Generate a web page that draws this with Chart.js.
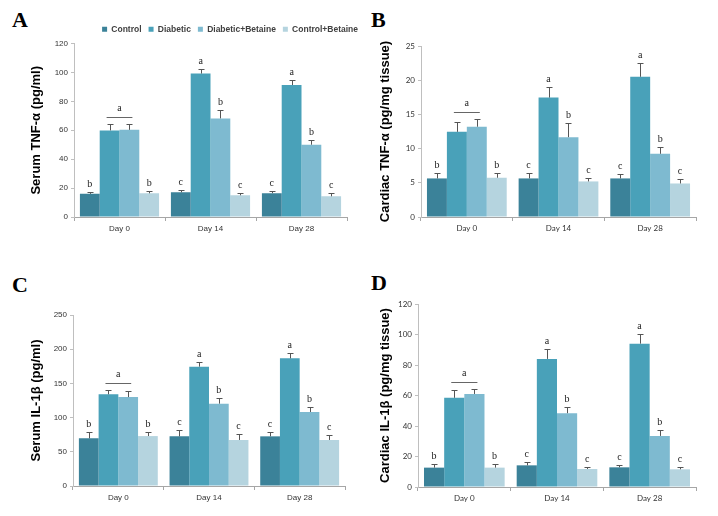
<!DOCTYPE html>
<html>
<head>
<meta charset="utf-8">
<script src="https://cdn.jsdelivr.net/npm/chart.js@4.4.0/dist/chart.umd.min.js"></script>
<style>
  body { margin: 0; background: #fff; width: 718px; height: 516px; position: relative; overflow: hidden; }
  canvas { position: absolute; }
  .tag { position: absolute; font: bold 22px "Liberation Serif", serif; line-height: 22px; color: #000; }
</style>
</head>
<body>
<div class="tag" style="left:12px;top:9px">A</div>
<div class="tag" style="left:371px;top:9px">B</div>
<div class="tag" style="left:12px;top:274px">C</div>
<div class="tag" style="left:371px;top:272px">D</div>

<canvas id="chartA" width="345" height="230" style="left:20px;top:15px"></canvas>
<canvas id="chartB" width="340" height="215" style="left:365px;top:30px"></canvas>
<canvas id="chartC" width="345" height="215" style="left:20px;top:300px"></canvas>
<canvas id="chartD" width="340" height="230" style="left:365px;top:285px"></canvas>

<script>
const days = ['Day 0', 'Day 14', 'Day 28'];
const groups = ['Control', 'Diabetic', 'Diabetic+Betaine', 'Control+Betaine'];
const groupColors = ['#3b8299', '#49a1b9', '#7ebad0', '#b5d4df'];

// significance letters, the same in every panel
// (day 0 Diabetic and Diabetic+Betaine share one letter drawn over a line)
const lettersControl = ['b', 'c', 'c'];
const lettersDiabetic = ['', 'a', 'a'];
const lettersDiabBet = ['', 'b', 'b'];
const lettersCtrlBet = ['b', 'c', 'c'];
const lettersDay0Shared = 'a';

// A - serum TNF-alpha (pg/ml)
const serumTnfControl = [16, 17.1, 16.5];
const serumTnfDiabetic = [59.9, 99.2, 91.3];
const serumTnfDiabBet = [60.3, 68.2, 50];
const serumTnfCtrlBet = [16.4, 15, 14.3];
const serumTnfControlErr = [1.1, 1.4, 1.6];
const serumTnfDiabeticErr = [4.6, 3.2, 3.5];
const serumTnfDiabBetErr = [4.2, 6, 3.2];
const serumTnfCtrlBetErr = [1.6, 1.9, 2.1];

// B - cardiac TNF-alpha (pg/mg tissue)
const cardTnfControl = [5.64, 5.64, 5.64];
const cardTnfDiabetic = [12.45, 17.46, 20.5];
const cardTnfDiabBet = [13.2, 11.67, 9.24];
const cardTnfCtrlBet = [5.74, 5.2, 4.9];
const cardTnfControlErr = [0.73, 0.76, 0.63];
const cardTnfDiabeticErr = [1.45, 1.54, 2.0];
const cardTnfDiabBetErr = [1.2, 2.0, 0.96];
const cardTnfCtrlBetErr = [0.73, 0.54, 0.65];

// C - serum IL-1beta (pg/ml)
const serumIlControl = [69.7, 72.6, 72.6];
const serumIlDiabetic = [134, 174.5, 186.6];
const serumIlDiabBet = [130, 120.4, 108.2];
const serumIlCtrlBet = [73, 67.3, 67.3];
const serumIlControlErr = [9.7, 9.8, 6.8];
const serumIlDiabeticErr = [6.8, 7.3, 8.4];
const serumIlDiabBetErr = [9.4, 8.3, 7.3];
const serumIlCtrlBetErr = [5.5, 8.7, 7.7];

// D - cardiac IL-1beta (pg/mg tissue)
const cardIlControl = [12.7, 14.2, 12.9];
const cardIlDiabetic = [58.5, 84, 94];
const cardIlDiabBet = [61, 48.4, 33.5];
const cardIlCtrlBet = [12.7, 11.8, 11.6];
const cardIlControlErr = [2.2, 2.4, 1.7];
const cardIlDiabeticErr = [5, 6.5, 6.2];
const cardIlDiabBetErr = [3.4, 4.1, 3.6];
const cardIlCtrlBetErr = [2.4, 1.6, 1.4];

const letterSets = [lettersControl, lettersDiabetic, lettersDiabBet, lettersCtrlBet];

// error bars + letters + the day 0 line
const marksPlugin = {
  id: 'marks',
  afterDatasetsDraw(chart) {
    const ctx = chart.ctx;
    const y = chart.scales.y;
    ctx.save();
    ctx.lineWidth = 1;
    ctx.fillStyle = '#222';
    ctx.font = '10px "Liberation Serif"';
    ctx.textAlign = 'center';
    ctx.textBaseline = 'alphabetic';
    chart.data.datasets.forEach((ds, i) => {
      chart.getDatasetMeta(i).data.forEach((bar, j) => {
        const top = Math.round(y.getPixelForValue(ds.data[j] + ds.errors[j])) + 0.5;
        const x = Math.round(bar.x) + 0.5;
        ctx.strokeStyle = '#555';
        ctx.beginPath();
        ctx.moveTo(x, bar.y);
        ctx.lineTo(x, top);
        ctx.moveTo(x - 3, top);
        ctx.lineTo(x + 3, top);
        ctx.stroke();
        if (ds.letters[j]) ctx.fillText(ds.letters[j], bar.x, top - 6);
      });
    });
    const d1 = chart.data.datasets[1], d2 = chart.data.datasets[2];
    const b1 = chart.getDatasetMeta(1).data[0], b2 = chart.getDatasetMeta(2).data[0];
    const capTop = Math.min(y.getPixelForValue(d1.data[0] + d1.errors[0]), y.getPixelForValue(d2.data[0] + d2.errors[0]));
    const ly = Math.round(capTop - 7) + 0.5;
    ctx.strokeStyle = '#666';
    ctx.beginPath();
    ctx.moveTo(b1.x - 3, ly);
    ctx.lineTo(b2.x + 3, ly);
    ctx.stroke();
    ctx.fillText(lettersDay0Shared, (b1.x + b2.x) / 2, ly - 7);
    ctx.restore();
  }
};

function drawPanel(id, values, errors, opt) {
  const datasets = groups.map((name, i) => ({
    label: name,
    data: values[i],
    errors: errors[i],
    letters: letterSets[i],
    backgroundColor: groupColors[i],
    borderWidth: 0,
    categoryPercentage: 0.87,
    barPercentage: 1.0
  }));
  const tickFont = { family: opt.tickFamily, size: 8 };
  return new Chart(document.getElementById(id), {
    type: 'bar',
    data: { labels: days, datasets: datasets },
    options: {
      responsive: false,
      animation: false,
      devicePixelRatio: 1,
      layout: { padding: { top: opt.padTop, left: 0, right: 0, bottom: 0 } },
      plugins: {
        tooltip: { enabled: false },
        legend: {
          display: !!opt.legend,
          position: 'top',
          align: 'end',
          labels: {
            boxWidth: 5,
            boxHeight: 5,
            padding: 7,
            color: '#404040',
            font: { family: 'Liberation Sans', size: 8.5, weight: 'bold' }
          }
        }
      },
      scales: {
        x: {
          grid: { display: true, drawOnChartArea: false, drawTicks: true, tickLength: 4, color: '#a6a6a6', offset: true },
          border: { display: true, color: '#a6a6a6' },
          ticks: { color: '#333', font: tickFont, padding: 3 },
          afterFit: s => { s.height = opt.xH; }
        },
        y: {
          min: 0,
          max: opt.yMax,
          grid: { display: true, drawOnChartArea: false, drawTicks: true, tickLength: 3, color: '#bfbfbf' },
          border: { display: true, color: '#bfbfbf' },
          ticks: { stepSize: opt.yStep, color: '#333', font: tickFont, padding: 3 },
          title: {
            display: true,
            text: opt.title,
            color: '#000',
            font: { family: 'Liberation Sans', size: 13, weight: 'bold' },
            padding: { top: opt.titlePad, bottom: 0 }
          },
          afterFit: s => { s.width = opt.yW; }
        },
        yR: {
          type: 'linear',
          position: 'right',
          display: true,
          grid: { display: false },
          border: { display: false },
          ticks: { display: false },
          afterFit: s => { s.width = opt.rW; }
        }
      }
    },
    plugins: [marksPlugin]
  });
}

drawPanel('chartA',
  [serumTnfControl, serumTnfDiabetic, serumTnfDiabBet, serumTnfCtrlBet],
  [serumTnfControlErr, serumTnfDiabeticErr, serumTnfDiabBetErr, serumTnfCtrlBetErr],
  { title: 'Serum TNF-α (pg/ml)', yMax: 120, yStep: 20, tickFamily: 'Liberation Sans',
    legend: true, padTop: 3, xH: 28, yW: 54, rW: 18, titlePad: 9 });

drawPanel('chartB',
  [cardTnfControl, cardTnfDiabetic, cardTnfDiabBet, cardTnfCtrlBet],
  [cardTnfControlErr, cardTnfDiabeticErr, cardTnfDiabBetErr, cardTnfCtrlBetErr],
  { title: 'Cardiac TNF-α (pg/mg tissue)', yMax: 25, yStep: 5, tickFamily: 'Lato',
    padTop: 16, xH: 28, yW: 56, rW: 9, titlePad: 13 });

drawPanel('chartC',
  [serumIlControl, serumIlDiabetic, serumIlDiabBet, serumIlCtrlBet],
  [serumIlControlErr, serumIlDiabeticErr, serumIlDiabBetErr, serumIlCtrlBetErr],
  { title: 'Serum IL-1β (pg/ml)', yMax: 250, yStep: 50, tickFamily: 'Liberation Sans',
    padTop: 15, xH: 29, yW: 53, rW: 20, titlePad: 9 });

drawPanel('chartD',
  [cardIlControl, cardIlDiabetic, cardIlDiabBet, cardIlCtrlBet],
  [cardIlControlErr, cardIlDiabeticErr, cardIlDiabBetErr, cardIlCtrlBetErr],
  { title: 'Cardiac IL-1β (pg/mg tissue)', yMax: 120, yStep: 20, tickFamily: 'Lato',
    padTop: 19, xH: 28, yW: 53, rW: 9, titlePad: 13 });
</script>
</body>
</html>
